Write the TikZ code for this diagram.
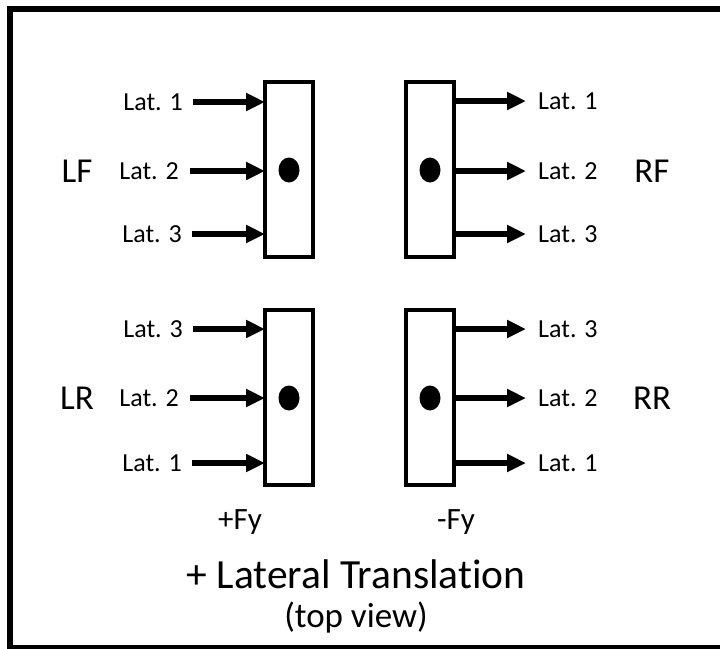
\documentclass[tikz,border=0pt]{standalone}
\usepackage{fontspec}
\setmainfont{Carlito}[Ligatures=NoCommon]
\usetikzlibrary{arrows.meta,shapes.geometric}
\begin{document}
\begin{tikzpicture}[x=1pt,y=-1pt,
  box/.style={draw=black,line width=4pt,fill=white,minimum width=48pt,minimum height=175pt,inner sep=0pt,outer sep=0pt},
  dotn/.style={fill=black,ellipse,minimum width=21pt,minimum height=25pt,inner sep=0pt},
  lat/.style={font=\fontsize{26}{28}\selectfont,inner sep=0pt},
  corner/.style={font=\fontsize{35}{38}\selectfont,inner sep=0pt},
  fy/.style={font=\fontsize{31}{34}\selectfont,inner sep=0pt},
  arr/.style={line width=6pt,-{Triangle[length=19pt,width=17pt]}}]
\useasboundingbox (0,0) rectangle (720,648);
\begin{scope}
\clip (0,0) rectangle (720,648);
\draw[line width=6pt] (10,9) rectangle (740,648);
\end{scope}
% boxes
\node[box] (LF) at (289,169.5) {};
\node[box] (RF) at (429.5,169.5) {};
\node[box] (LR) at (289,397.5) {};
\node[box] (RR) at (429.5,397.5) {};
\node[dotn] (dLF) at (289,170) {};
\node[dotn] (dRF) at (430,170) {};
\node[dotn] (dLR) at (289,398) {};
\node[dotn] (dRR) at (430,398) {};
% corner labels
\node[corner] (tLF) at (77,171) {LF};
\node[corner] (tRF) at (652,171) {RF};
\node[corner] (tLR) at (77,398) {LR};
\node[corner] (tRR) at (652,398) {RR};
% left labels
\node[lat,anchor=east] (a1) at (183,102) {Lat. 1};
\node[lat,anchor=east] (a2) at (179,171) {Lat. 2};
\node[lat,anchor=east] (a3) at (182,234) {Lat. 3};
\node[lat,anchor=east] (c3) at (183,329) {Lat. 3};
\node[lat,anchor=east] (c2) at (179,398) {Lat. 2};
\node[lat,anchor=east] (c1) at (182,463) {Lat. 1};
% right labels
\node[lat,anchor=west] (b1) at (538,101) {Lat. 1};
\node[lat,anchor=west] (b2) at (538,171) {Lat. 2};
\node[lat,anchor=west] (b3) at (538,234) {Lat. 3};
\node[lat,anchor=west] (d3) at (538,329) {Lat. 3};
\node[lat,anchor=west] (d2) at (538,398) {Lat. 2};
\node[lat,anchor=west] (d1) at (538,463) {Lat. 1};
% arrows
\draw[arr] ([xshift=10pt]a1.east) -- (a1.east -| LF.west);
\draw[arr] ([xshift=11pt]a2.east) -- (a2.east -| LF.west);
\draw[arr] ([xshift=10pt]a3.east) -- (a3.east -| LF.west);
\draw[arr] ([xshift=10pt]c3.east) -- (c3.east -| LR.west);
\draw[arr] ([xshift=11pt]c2.east) -- (c2.east -| LR.west);
\draw[arr] ([xshift=10pt]c1.east) -- (c1.east -| LR.west);
\draw[arr] (b1.west -| RF.east) -- ([xshift=-12pt]b1.west);
\draw[arr] (b2.west -| RF.east) -- ([xshift=-12pt]b2.west);
\draw[arr] (b3.west -| RF.east) -- ([xshift=-12pt]b3.west);
\draw[arr] (d3.west -| RR.east) -- ([xshift=-12pt]d3.west);
\draw[arr] (d2.west -| RR.east) -- ([xshift=-12pt]d2.west);
\draw[arr] (d1.west -| RR.east) -- ([xshift=-12pt]d1.west);
% bottom texts
\node[fy] (pfy) at (240,522) {+Fy};
\node[fy] (mfy) at (456,522) {-Fy};
\node[font=\fontsize{41.5}{44}\selectfont,inner sep=0pt] (title) at (356,574) {+ Lateral Translation};
\node[font=\fontsize{35}{38}\selectfont,inner sep=0pt] (sub) at (356,618) {(top view)};
\end{tikzpicture}
\end{document}
